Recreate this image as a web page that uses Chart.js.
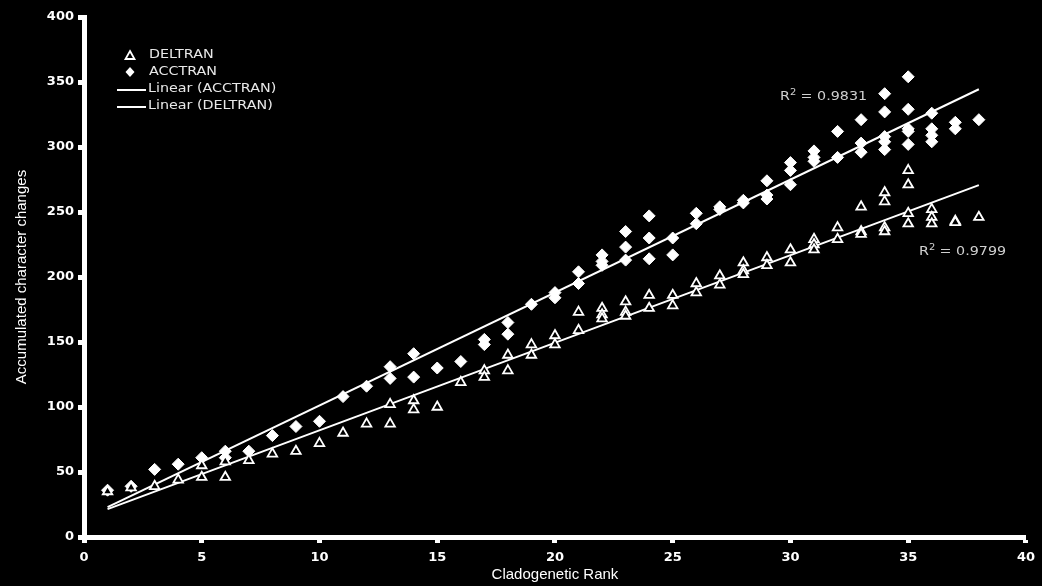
<!DOCTYPE html>
<html>
<head>
<meta charset="utf-8">
<script src="https://cdn.jsdelivr.net/npm/chart.js@4.4.1/dist/chart.umd.min.js"></script>
<style>
html,body{margin:0;padding:0;background:#000;}
#wrap{width:1042px;height:586px;position:relative;}
</style>
</head>
<body>
<div id="wrap"><canvas id="c"></canvas></div>
<script>
// ---- Data ----
const xTickValues = [0, 5, 10, 15, 20, 25, 30, 35, 40];
const yTickValues = [0, 50, 100, 150, 200, 250, 300, 350, 400];

const acctranRanks = [1,2,3,4,5,6,6,7,8,9,10,11,12,13,13,14,14,15,16,17,17,18,18,19,20,20,21,21,22,22,22,23,23,23,24,24,24,25,25,26,26,27,27,28,28,29,29,29,30,30,30,31,31,31,32,32,33,33,33,34,34,34,34,34,35,35,35,35,35,36,36,36,36,37,37,38];
const acctranValues = [36,39,52,56,61,66,61,66,78,85,89,108,116,131,122,141,123,130,135,152,148,165,156,179,188,184,204,195,217,212,209,235,223,213,247,230,214,230,217,249,241,254,252,259,257,274,263,260,288,282,271,297,292,289,312,292,321,303,296,341,327,308,304,298,354,329,314,312,302,326,314,309,304,319,314,321];

const deltranRanks = [1,2,3,4,5,5,6,6,7,8,9,10,11,12,13,13,14,14,15,16,17,17,18,18,19,19,20,20,21,21,22,22,22,23,23,23,24,24,25,25,26,26,27,27,28,28,28,29,29,30,30,31,31,31,32,32,33,33,33,34,34,34,34,35,35,35,35,36,36,36,37,37,38];
const deltranValues = [35,38,39,44,55,46,58,46,59,64,66,72,80,87,102,87,105,98,100,119,128,123,140,128,148,140,155,148,173,159,176,171,168,181,173,170,186,176,186,178,195,188,201,194,211,205,202,215,209,221,211,229,225,221,238,229,254,235,233,265,258,238,235,282,271,249,241,252,246,241,243,242,246];

const seriesNames = ['DELTRAN', 'ACCTRAN', 'Linear (ACCTRAN)', 'Linear (DELTRAN)'];
const rSquaredAcctran = '0.9831';
const rSquaredDeltran = '0.9799';
const trendRange = [1, 38];

// least-squares linear trendline (as the spreadsheet's "Linear" trendline)
function linearFit(xs, ys) {
  const n = xs.length;
  let sx = 0, sy = 0, sxx = 0, sxy = 0;
  for (let i = 0; i < n; i++) { sx += xs[i]; sy += ys[i]; sxx += xs[i]*xs[i]; sxy += xs[i]*ys[i]; }
  const b = (n*sxy - sx*sy) / (n*sxx - sx*sx);
  const a = (sy - b*sx) / n;
  return trendRange.map(x => ({x: x, y: a + b*x}));
}
const toPoints = (xs, ys) => xs.map((x, i) => ({x: x, y: ys[i]}));

const bg = {
  id: 'bg',
  beforeDraw(chart) {
    const c = chart.ctx; c.save(); c.fillStyle = '#000';
    c.fillRect(0, 0, chart.width, chart.height); c.restore();
  }
};

const overlay = {
  id: 'overlay',
  afterDraw(chart) {
    const c = chart.ctx;
    c.save();
    c.textBaseline = 'middle';
    c.textAlign = 'left';
    const txt = (s, x, y, col, font) => {
      c.save(); c.translate(x, y); c.scale(1.1, 1);
      c.fillStyle = col; c.font = font; c.fillText(s, 0, 0); c.restore();
    };
    const lf = '13px "DejaVu Sans"';
    const lc = '#e8e8e8';
    // legend: triangle
    c.strokeStyle = '#fff'; c.lineWidth = 1.8; c.fillStyle = '#000';
    c.beginPath(); c.moveTo(130, 51); c.lineTo(134.5, 59); c.lineTo(125.5, 59); c.closePath();
    c.fill(); c.stroke();
    txt(seriesNames[0], 149, 55, lc, lf);
    // legend: diamond
    c.fillStyle = '#fff';
    c.beginPath(); c.moveTo(130, 67); c.lineTo(134.5, 72); c.lineTo(130, 77); c.lineTo(125.5, 72); c.closePath();
    c.fill();
    txt(seriesNames[1], 149, 72, lc, lf);
    // legend: lines
    c.strokeStyle = '#fff'; c.lineWidth = 2;
    c.beginPath(); c.moveTo(117, 90); c.lineTo(146, 90); c.stroke();
    txt(seriesNames[2], 148, 89, lc, lf);
    c.beginPath(); c.moveTo(117, 107); c.lineTo(146, 107); c.stroke();
    txt(seriesNames[3], 148, 106, lc, lf);

    // R squared labels
    const rs = (x, y, val) => {
      const col = '#cfcfcf';
      txt('R', x, y, col, lf);
      txt('2', x + 10, y - 4, col, '9px "DejaVu Sans"');
      txt(' = ' + val, x + 16, y, col, lf);
    };
    rs(780, 97, rSquaredAcctran);
    rs(919, 252, rSquaredDeltran);
    c.restore();
  }
};

const tickFont = {family: '"DejaVu Sans"', size: 13, weight: 'bold'};
const titleFont = {family: '"Liberation Sans", Arial', size: 15};

new Chart(document.getElementById('c'), {
  type: 'scatter',
  data: {
    datasets: [
      {
        label: seriesNames[2], type: 'line', data: linearFit(acctranRanks, acctranValues),
        borderColor: '#fff', borderWidth: 2, pointRadius: 0, fill: false, order: 3
      },
      {
        label: seriesNames[3], type: 'line', data: linearFit(deltranRanks, deltranValues),
        borderColor: '#fff', borderWidth: 2, pointRadius: 0, fill: false, order: 3
      },
      {
        label: seriesNames[0], data: toPoints(deltranRanks, deltranValues),
        pointStyle: 'triangle', pointRadius: 5.5, borderWidth: 1.8,
        borderColor: '#fff', backgroundColor: '#000', order: 1
      },
      {
        label: seriesNames[1], data: toPoints(acctranRanks, acctranValues),
        pointStyle: 'rectRot', pointRadius: 6, borderWidth: 1,
        borderColor: '#fff', backgroundColor: '#fff', order: 2
      }
    ]
  },
  options: {
    responsive: true,
    maintainAspectRatio: false,
    animation: false,
    layout: {padding: {left: 0, top: 17, right: 16, bottom: 0}},
    plugins: {legend: {display: false}, tooltip: {enabled: false}},
    scales: {
      x: {
        type: 'linear', min: 0, max: 40,
        afterBuildTicks: s => { s.ticks = xTickValues.map(v => ({value: v})); },
        afterFit: s => { s.height = 49; },
        border: {display: true, color: '#fff', width: 5},
        grid: {drawOnChartArea: false, drawTicks: true, tickLength: 6, tickWidth: 5, tickColor: '#fff'},
        ticks: {color: '#fff', font: tickFont, padding: 7, maxRotation: 0},
        title: {display: true, text: 'Cladogenetic Rank', color: '#fff', font: titleFont, padding: {top: 0, bottom: 2}}
      },
      y: {
        type: 'linear', min: 0, max: 400,
        afterBuildTicks: s => { s.ticks = yTickValues.map(v => ({value: v})); },
        afterFit: s => { s.width = 84; },
        border: {display: true, color: '#fff', width: 5},
        grid: {drawOnChartArea: false, drawTicks: true, tickLength: 6, tickWidth: 5, tickColor: '#fff'},
        ticks: {color: '#fff', font: tickFont, padding: 4},
        title: {display: true, text: 'Accumulated character changes', color: '#fff', font: titleFont, padding: {top: 13}}
      }
    }
  },
  plugins: [bg, overlay]
});
</script>
</body>
</html>
